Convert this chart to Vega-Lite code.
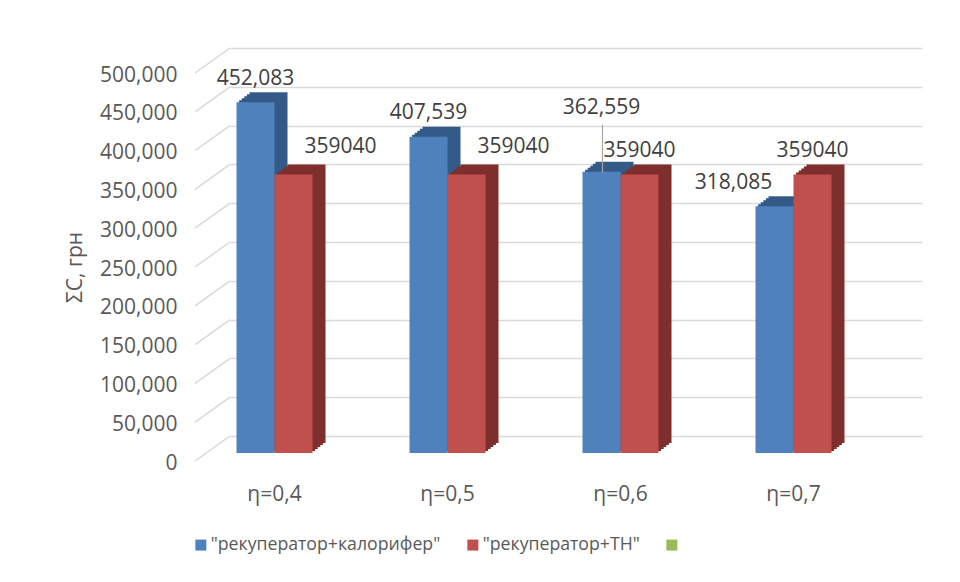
{
  "$schema": "https://vega.github.io/schema/vega-lite/v6.json",
  "autosize": {"type": "none"},
  "width": 692,
  "height": 388,
  "padding": {"left": 230, "top": 48, "right": 38, "bottom": 146},
  "background": "white",
  "config": {"view": {"stroke": null}, "font": "Open Sans"},
  "datasets": {
    "bars": [
      {"eta": "η=0,4", "series": "\"рекуператор+калорифер\"", "v": 452083, "label": "452,083"},
      {"eta": "η=0,5", "series": "\"рекуператор+калорифер\"", "v": 407539, "label": "407,539"},
      {"eta": "η=0,6", "series": "\"рекуператор+калорифер\"", "v": 362559, "label": "362,559"},
      {"eta": "η=0,7", "series": "\"рекуператор+калорифер\"", "v": 318085, "label": "318,085"},
      {"eta": "η=0,4", "series": "\"рекуператор+ТН\"", "v": 359040, "label": "359040"},
      {"eta": "η=0,5", "series": "\"рекуператор+ТН\"", "v": 359040, "label": "359040"},
      {"eta": "η=0,6", "series": "\"рекуператор+ТН\"", "v": 359040, "label": "359040"},
      {"eta": "η=0,7", "series": "\"рекуператор+ТН\"", "v": 359040, "label": "359040"}
    ],
    "grid": [
      {"g": 0}, {"g": 50000}, {"g": 100000}, {"g": 150000}, {"g": 200000}, {"g": 250000},
      {"g": 300000}, {"g": 350000}, {"g": 400000}, {"g": 450000}, {"g": 500000}
    ]
  },
  "layer": [
    {
      "data": {"name": "grid"},
      "mark": {"type": "rule", "color": "#d9d9d9", "strokeWidth": 1.5, "x2Offset": -121.5, "y2Offset": 25},
      "encoding": {
        "x": {"datum": "η=0,4", "type": "nominal", "bandPosition": 0,
              "scale": {"domain": ["η=0,4", "η=0,5", "η=0,6", "η=0,7"], "paddingInner": 0, "paddingOuter": 0},
              "axis": {"title": null, "labelOffset": -42, "labelPadding": 47, "ticks": false, "domain": false, "labelAngle": 0,
                       "labelFont": "Open Sans", "labelFontSize": 21, "labelColor": "#595959"}},
        "x2": {"datum": "η=0,4"},
        "y": {"field": "g", "type": "quantitative",
              "scale": {"domain": [0, 500000], "nice": false},
              "axis": {"values": [0, 50000, 100000, 150000, 200000, 250000, 300000, 350000, 400000, 450000, 500000],
                       "tickCount": 11,
                       "format": ",d", "labelPadding": 53, "ticks": false, "domain": false, "labelOverlap": false,
                       "grid": true, "gridColor": "#d9d9d9", "gridWidth": 1.5, "labelOffset": 27,
                       "labelFont": "Open Sans", "labelFontSize": 21, "labelColor": "#595959",
                       "title": "ΣC, грн", "titleFont": "Open Sans", "titleFontSize": 21, "titleFontWeight": "normal",
                       "titleColor": "#595959", "titlePadding": 14, "titleY": 219}},
        "y2": {"field": "g"}
      }
    },
    {
      "data": {"name": "bars"},
      "transform": [{"filter": {"field": "series", "equal": "\"рекуператор+калорифер\""}}],
      "mark": {"type": "bar", "width": 38, "color": "#345a88", "xOffset": -48, "yOffset": 7, "y2Offset": 7},
      "encoding": {"x": {"field": "eta", "type": "nominal"}, "y": {"field": "v", "type": "quantitative", "stack": null}, "y2": {"datum": 0}}
    },
    {
      "data": {"name": "bars"},
      "transform": [{"filter": {"field": "series", "equal": "\"рекуператор+калорифер\""}}],
      "mark": {"type": "bar", "width": 38, "color": "#345a88", "xOffset": -50.6, "yOffset": 9, "y2Offset": 9},
      "encoding": {"x": {"field": "eta", "type": "nominal"}, "y": {"field": "v", "type": "quantitative", "stack": null}, "y2": {"datum": 0}}
    },
    {
      "data": {"name": "bars"},
      "transform": [{"filter": {"field": "series", "equal": "\"рекуператор+калорифер\""}}],
      "mark": {"type": "bar", "width": 38, "color": "#345a88", "xOffset": -53.2, "yOffset": 11, "y2Offset": 11},
      "encoding": {"x": {"field": "eta", "type": "nominal"}, "y": {"field": "v", "type": "quantitative", "stack": null}, "y2": {"datum": 0}}
    },
    {
      "data": {"name": "bars"},
      "transform": [{"filter": {"field": "series", "equal": "\"рекуператор+калорифер\""}}],
      "mark": {"type": "bar", "width": 38, "color": "#345a88", "xOffset": -55.8, "yOffset": 13, "y2Offset": 13},
      "encoding": {"x": {"field": "eta", "type": "nominal"}, "y": {"field": "v", "type": "quantitative", "stack": null}, "y2": {"datum": 0}}
    },
    {
      "data": {"name": "bars"},
      "transform": [{"filter": {"field": "series", "equal": "\"рекуператор+калорифер\""}}],
      "mark": {"type": "bar", "width": 38, "color": "#345a88", "xOffset": -58.4, "yOffset": 15, "y2Offset": 15},
      "encoding": {"x": {"field": "eta", "type": "nominal"}, "y": {"field": "v", "type": "quantitative", "stack": null}, "y2": {"datum": 0}}
    },
    {
      "data": {"name": "bars"},
      "transform": [{"filter": {"field": "series", "equal": "\"рекуператор+калорифер\""}}],
      "mark": {"type": "bar", "width": 38, "xOffset": -61, "yOffset": 17, "y2Offset": 17, "opacity": 1},
      "encoding": {
        "x": {"field": "eta", "type": "nominal"},
        "y": {"field": "v", "type": "quantitative", "stack": null},
        "y2": {"datum": 0},
        "color": {"field": "series", "type": "nominal",
                  "scale": {"domain": ["\"рекуператор+калорифер\"", "\"рекуператор+ТН\"", " "], "range": ["#4f81bd", "#c0504d", "#9bbb59"]},
                  "legend": {"orient": "none", "direction": "horizontal", "legendX": -38, "legendY": 488, "title": null,
                             "symbolType": "square", "symbolSize": 121, "symbolStrokeWidth": 0, "symbolOpacity": 1,
                             "labelFont": "Open Sans", "labelFontSize": 17.7, "labelColor": "#595959", "labelOffset": 1,
                             "columnPadding": 23, "labelLimit": 400}}
      }
    },
    {
      "data": {"name": "bars"},
      "transform": [{"filter": {"field": "series", "equal": "\"рекуператор+ТН\""}}],
      "mark": {"type": "bar", "width": 38, "color": "#7e2f2d", "xOffset": -10, "yOffset": 7, "y2Offset": 7},
      "encoding": {"x": {"field": "eta", "type": "nominal"}, "y": {"field": "v", "type": "quantitative", "stack": null}, "y2": {"datum": 0}}
    },
    {
      "data": {"name": "bars"},
      "transform": [{"filter": {"field": "series", "equal": "\"рекуператор+ТН\""}}],
      "mark": {"type": "bar", "width": 38, "color": "#7e2f2d", "xOffset": -12.6, "yOffset": 9, "y2Offset": 9},
      "encoding": {"x": {"field": "eta", "type": "nominal"}, "y": {"field": "v", "type": "quantitative", "stack": null}, "y2": {"datum": 0}}
    },
    {
      "data": {"name": "bars"},
      "transform": [{"filter": {"field": "series", "equal": "\"рекуператор+ТН\""}}],
      "mark": {"type": "bar", "width": 38, "color": "#7e2f2d", "xOffset": -15.2, "yOffset": 11, "y2Offset": 11},
      "encoding": {"x": {"field": "eta", "type": "nominal"}, "y": {"field": "v", "type": "quantitative", "stack": null}, "y2": {"datum": 0}}
    },
    {
      "data": {"name": "bars"},
      "transform": [{"filter": {"field": "series", "equal": "\"рекуператор+ТН\""}}],
      "mark": {"type": "bar", "width": 38, "color": "#7e2f2d", "xOffset": -17.8, "yOffset": 13, "y2Offset": 13},
      "encoding": {"x": {"field": "eta", "type": "nominal"}, "y": {"field": "v", "type": "quantitative", "stack": null}, "y2": {"datum": 0}}
    },
    {
      "data": {"name": "bars"},
      "transform": [{"filter": {"field": "series", "equal": "\"рекуператор+ТН\""}}],
      "mark": {"type": "bar", "width": 38, "color": "#7e2f2d", "xOffset": -20.4, "yOffset": 15, "y2Offset": 15},
      "encoding": {"x": {"field": "eta", "type": "nominal"}, "y": {"field": "v", "type": "quantitative", "stack": null}, "y2": {"datum": 0}}
    },
    {
      "data": {"name": "bars"},
      "transform": [{"filter": {"field": "series", "equal": "\"рекуператор+ТН\""}}],
      "mark": {"type": "bar", "width": 38, "xOffset": -23, "yOffset": 17, "y2Offset": 17, "opacity": 1},
      "encoding": {
        "x": {"field": "eta", "type": "nominal"},
        "y": {"field": "v", "type": "quantitative", "stack": null},
        "y2": {"datum": 0},
        "color": {"field": "series", "type": "nominal"}
      }
    },
    {
      "data": {"name": "bars"},
      "transform": [{"filter": "datum.series !== '\"рекуператор+ТН\"' && datum.eta === 'η=0,6'"}],
      "mark": {"type": "rule", "color": "#a6a6a6", "strokeWidth": 1.2, "xOffset": -60, "yOffset": 18, "y2Offset": -30},
      "encoding": {"x": {"field": "eta", "type": "nominal"}, "y": {"field": "v", "type": "quantitative"}, "y2": {"field": "v"}}
    },
    {
      "data": {"name": "bars"},
      "transform": [{"filter": "datum.series !== '\"рекуператор+ТН\"' && (datum.eta === 'η=0,4' || datum.eta === 'η=0,5')"}],
      "mark": {"type": "text", "font": "Open Sans", "fontSize": 21, "color": "#404040", "baseline": "middle", "dx": -61, "dy": -6.5},
      "encoding": {"x": {"field": "eta", "type": "nominal"}, "y": {"field": "v", "type": "quantitative"}, "text": {"field": "label"}}
    },
    {
      "data": {"name": "bars"},
      "transform": [{"filter": "datum.series !== '\"рекуператор+ТН\"' && datum.eta === 'η=0,6'"}],
      "mark": {"type": "text", "font": "Open Sans", "fontSize": 21, "color": "#404040", "baseline": "middle", "dx": -61, "dy": -47},
      "encoding": {"x": {"field": "eta", "type": "nominal"}, "y": {"field": "v", "type": "quantitative"}, "text": {"field": "label"}}
    },
    {
      "data": {"name": "bars"},
      "transform": [{"filter": "datum.series !== '\"рекуператор+ТН\"' && datum.eta === 'η=0,7'"}],
      "mark": {"type": "text", "font": "Open Sans", "fontSize": 21, "color": "#404040", "baseline": "middle", "dx": -102, "dy": -6.5},
      "encoding": {"x": {"field": "eta", "type": "nominal"}, "y": {"field": "v", "type": "quantitative"}, "text": {"field": "label"}}
    },
    {
      "data": {"name": "bars"},
      "transform": [{"filter": "datum.series === '\"рекуператор+ТН\"' && (datum.eta === 'η=0,4' || datum.eta === 'η=0,5')"}],
      "mark": {"type": "text", "font": "Open Sans", "fontSize": 21, "color": "#404040", "baseline": "middle", "dx": 24, "dy": -10},
      "encoding": {"x": {"field": "eta", "type": "nominal"}, "y": {"field": "v", "type": "quantitative"}, "text": {"field": "label"}}
    },
    {
      "data": {"name": "bars"},
      "transform": [{"filter": "datum.series === '\"рекуператор+ТН\"' && (datum.eta === 'η=0,6' || datum.eta === 'η=0,7')"}],
      "mark": {"type": "text", "font": "Open Sans", "fontSize": 21, "color": "#404040", "baseline": "middle", "dx": -23, "dy": -6.5},
      "encoding": {"x": {"field": "eta", "type": "nominal"}, "y": {"field": "v", "type": "quantitative"}, "text": {"field": "label"}}
    }
  ]
}
